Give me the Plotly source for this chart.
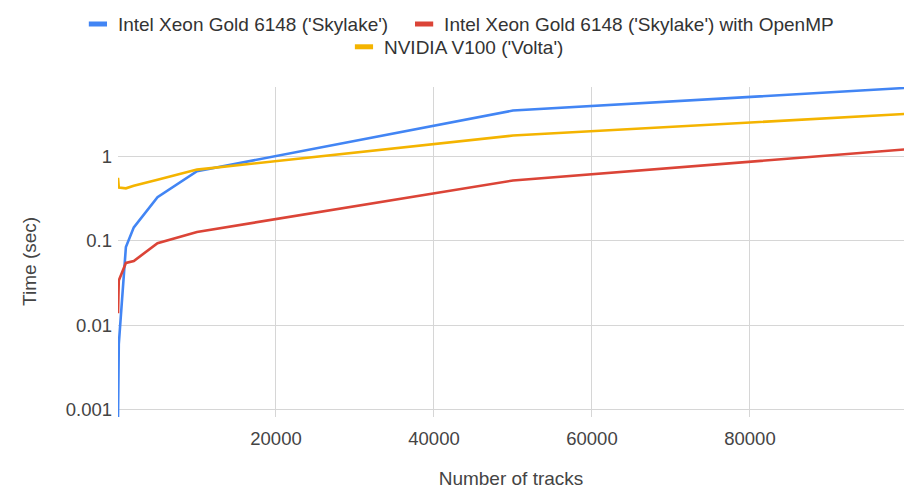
import plotly.graph_objects as go

# Benchmark: time to process N tracks on three platforms
tracks = [1, 10, 100, 1000, 2000, 5000, 10000, 50000, 100000]
skylake = [0.0008, 0.0012, 0.006, 0.085, 0.145, 0.33, 0.67, 3.5, 6.5]
skylake_omp = [0.014, 0.028, 0.034, 0.055, 0.058, 0.094, 0.128, 0.52, 1.22]
volta = [0.56, 0.5, 0.43, 0.42, 0.45, 0.53, 0.7, 1.77, 3.2]

series_names = [
    "Intel Xeon Gold 6148 ('Skylake')",
    "Intel Xeon Gold 6148 ('Skylake') with OpenMP",
    "NVIDIA V100 ('Volta')",
]
series_values = [skylake, skylake_omp, volta]
series_colors = ["#4285F4", "#DB4437", "#F4B400"]
legend_ids = ["legend", "legend3", "legend2"]

x_ticks = [20000, 40000, 60000, 80000]
y_ticks = [0.001, 0.01, 0.1, 1]
y_tick_text = ["0.001", "0.01", "0.1", "1"]

FONT = "Liberation Sans, Arial, sans-serif"

fig = go.Figure()

for name, vals, color in zip(series_names, series_values, series_colors):
    fig.add_trace(go.Scatter(
        x=tracks, y=vals, mode="lines", name=name,
        line=dict(color=color, width=2.6),
        showlegend=False, hoverinfo="x+y+name",
    ))

# Short bar-style legend keys
for name, color, lg in zip(series_names, series_colors, legend_ids):
    fig.add_trace(go.Scatter(
        x=[None], y=[None], mode="markers", name=name, legend=lg,
        marker=dict(symbol="line-ew", size=13, color=color,
                    line=dict(width=5, color=color)),
    ))

legend_common = dict(
    orientation="h", xanchor="left", yanchor="top",
    font=dict(size=19, color="#333"), bgcolor="rgba(0,0,0,0)",
)

fig.update_layout(
    width=904, height=490,
    margin=dict(l=118, r=0, t=87, b=73),
    paper_bgcolor="white", plot_bgcolor="white",
    font=dict(family=FONT, size=19, color="#444"),
    legend=dict(x=-0.051, y=1.248, **legend_common),
    legend3=dict(x=0.364, y=1.248, **legend_common),
    legend2=dict(x=0.2875, y=1.179, **legend_common),
    xaxis=dict(
        range=[0, 99500], tickvals=x_ticks, tickformat="d",
        showgrid=True, gridcolor="#d6d6d6", gridwidth=1,
        zeroline=False, showline=False, ticks="",
        ticklabelstandoff=8,
        tickfont=dict(size=18.5, color="#444"),
        title=dict(text="Number of tracks", standoff=24,
                   font=dict(size=19, color="#444")),
    ),
    yaxis=dict(
        type="log", range=[-3.083, 0.8225],
        tickvals=y_ticks, ticktext=y_tick_text,
        showgrid=True, gridcolor="#d6d6d6", gridwidth=1,
        zeroline=False, showline=False, ticks="",
        ticklabelstandoff=5,
        tickfont=dict(size=18.5, color="#444"),
    ),
    annotations=[dict(
        text="Time (sec)", textangle=-90, showarrow=False,
        xref="paper", yref="paper", x=-0.112, y=0.473,
        xanchor="center", yanchor="middle",
        font=dict(size=19, color="#444"),
    )],
)

fig.write_html("out.html")
